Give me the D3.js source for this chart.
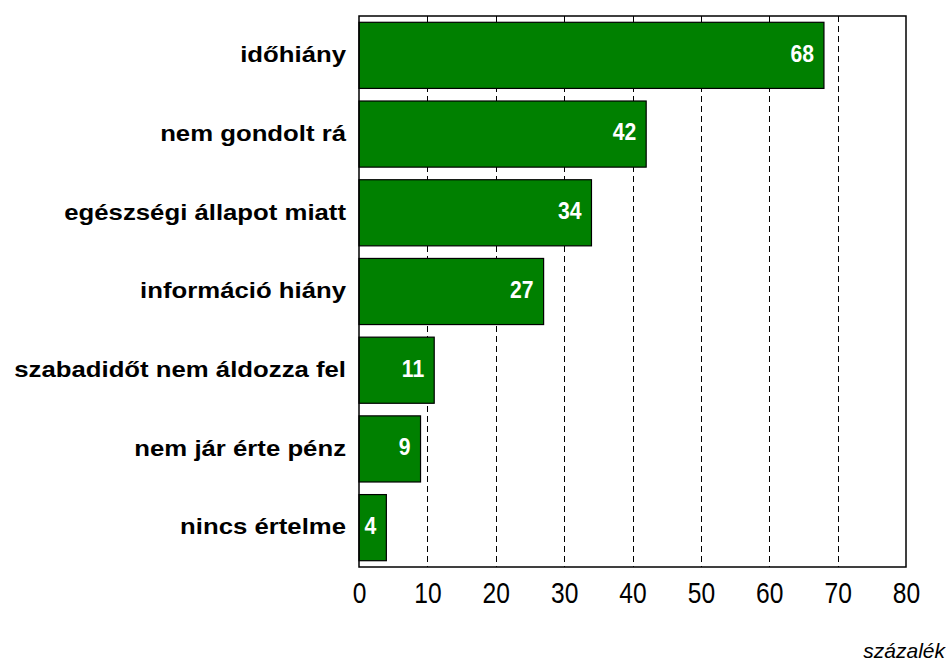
<!DOCTYPE html>
<html><head><meta charset="utf-8">
<script src="https://cdn.jsdelivr.net/npm/d3@7"></script>
<style>body{margin:0;background:#fff}svg{display:block}</style>
</head><body>
<script>
const categories = ["időhiány","nem gondolt rá","egészségi állapot miatt","információ hiány","szabadidőt nem áldozza fel","nem jár érte pénz","nincs értelme"];
const values = [68,42,34,27,11,9,4];
const tickValues = [0,10,20,30,40,50,60,70,80];
const unitLabel = "százalék";

const W=946,H=662, L=359, R=906, T=16, B=567;
const svg=d3.select("body").append("svg").attr("width",W).attr("height",H);
const x=d3.scaleLinear().domain([0,80]).range([L,R]);
const y=d3.scaleBand().domain(categories).range([T,B]).paddingInner(0.16).paddingOuter(0.08);
const sans="'Liberation Sans',Arial,sans-serif";

// gridlines
svg.append("g").selectAll("line").data(tickValues.filter(d=>d>0&&d<80)).join("line")
 .attr("x1",d=>Math.round(x(d))+0.5).attr("x2",d=>Math.round(x(d))+0.5).attr("y1",T).attr("y2",B)
 .attr("stroke","#000").attr("stroke-width",1).attr("stroke-dasharray","6,4");

// bars
svg.append("g").selectAll("rect").data(values).join("rect")
 .attr("x",x(0)).attr("y",(d,i)=>y(categories[i])).attr("width",d=>x(d)-x(0)).attr("height",y.bandwidth())
 .attr("fill","#008000").attr("stroke","#000").attr("stroke-width",1.2);

// frame
svg.append("rect").attr("x",L).attr("y",T).attr("width",R-L).attr("height",B-T)
 .attr("fill","none").attr("stroke","#000").attr("stroke-width",1.5);

// value labels
svg.append("g").selectAll("text").data(values).join("text")
 .attr("transform",(d,i)=>`translate(${x(d)-10},${y(categories[i])+y.bandwidth()/2}) scale(0.9,1)`).attr("dy","0.27em")
 .attr("text-anchor","end").attr("fill","#fff").attr("font-family",sans).attr("font-weight","bold")
 .attr("font-size",23.5).text(d=>d);

// category labels
svg.append("g").selectAll("text").data(categories).join("text")
 .attr("transform",d=>`translate(${L-13},${y(d)+y.bandwidth()/2}) scale(1.17,1)`).attr("dy","0.31em")
 .attr("text-anchor","end").attr("font-family",sans).attr("font-weight","bold")
 .attr("font-size",22).attr("fill","#000").text(d=>d);

// x axis
const ax=svg.append("g").attr("transform",`translate(0,${B})`)
 .call(d3.axisBottom(x).tickValues(tickValues).tickSize(0).tickPadding(14.7));
ax.select(".domain").remove();
ax.selectAll("text").attr("font-family",sans).attr("font-size",30).attr("fill","#000")
 .attr("transform","scale(0.82,1)");

svg.append("text").attr("x",945).attr("y",658).attr("text-anchor","end")
 .attr("font-family",sans).attr("font-style","italic").attr("font-size",21)
 .text(unitLabel);
</script>
</body></html>
